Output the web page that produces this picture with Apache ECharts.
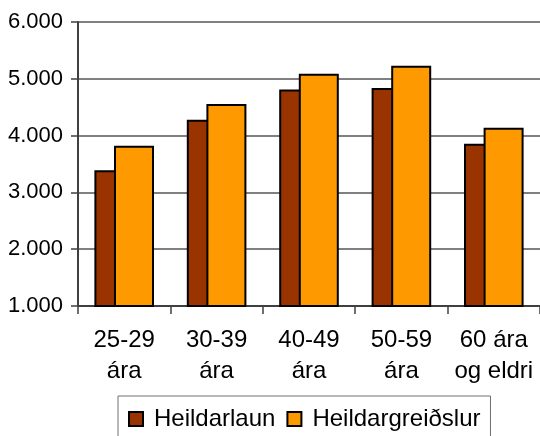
<!DOCTYPE html>
<html>
<head>
<meta charset="utf-8">
<script src="https://cdn.jsdelivr.net/npm/echarts@6/dist/echarts.min.js"></script>
<style>
html,body{margin:0;padding:0;background:#fff;}
#chart{width:540px;height:436px;}
</style>
</head>
<body>
<div id="chart"></div>
<script>
// aldurshópar
var categories = ['25-29\nára', '30-39\nára', '40-49\nára', '50-59\nára', '60 ára\nog eldri'];
var heildarlaun = [3390, 4280, 4810, 4840, 3855];
var heildargreidslur = [3820, 4555, 5090, 5230, 4140];
var yTicks = [1000, 2000, 3000, 4000, 5000, 6000];

function fmt(v){
	var s = String(v);
	return s.length > 3 ? s.slice(0, s.length-3) + '.' + s.slice(-3) : s;
}

var myChart = echarts.init(document.getElementById('chart'));
var option = {
	animation: false,
	textStyle: { fontFamily: 'Liberation Sans, Arial, sans-serif' },
	grid: { left: 78, right: -3, top: 22, bottom: 130 },
	legend: {
		data: ['Heildarlaun', 'Heildargreiðslur'],
		left: 118, top: 396,
		padding: [11, 10, 11, 10],
		borderColor: '#707070', borderWidth: 1,
		itemWidth: 14, itemHeight: 14, itemGap: 11,
		icon: 'rect',
		textStyle: { fontSize: 24, color: '#000', padding: [0, 0, 0, 6] }
	},
	xAxis: {
		type: 'category',
		data: categories,
		axisLine: { lineStyle: { color: '#404040', width: 2 } },
		axisTick: { show: true, length: 8, lineStyle: { color: '#404040', width: 1.5 } },
		axisLabel: { fontSize: 24, color: '#000', lineHeight: 31, margin: 19, interval: 0 }
	},
	yAxis: {
		type: 'value',
		min: yTicks[0], max: yTicks[yTicks.length-1], interval: 1000,
		axisLine: { show: true, lineStyle: { color: '#404040', width: 2 } },
		axisTick: { show: true, length: 7, lineStyle: { color: '#404040', width: 1.5 } },
		splitLine: { lineStyle: { color: '#808080', width: 2 } },
		axisLabel: { fontSize: 22, color: '#000', margin: 15, formatter: fmt }
	},
	series: [
		{
			name: 'Heildarlaun', type: 'bar', data: heildarlaun,
			barWidth: 40, barGap: '-51%',
			itemStyle: { color: '#993300', borderColor: '#000', borderWidth: 2 }
		},
		{
			name: 'Heildargreiðslur', type: 'bar', data: heildargreidslur,
			barWidth: 40,
			itemStyle: { color: '#FF9900', borderColor: '#000', borderWidth: 2 }
		}
	]
};
myChart.setOption(option);
</script>
</body>
</html>
